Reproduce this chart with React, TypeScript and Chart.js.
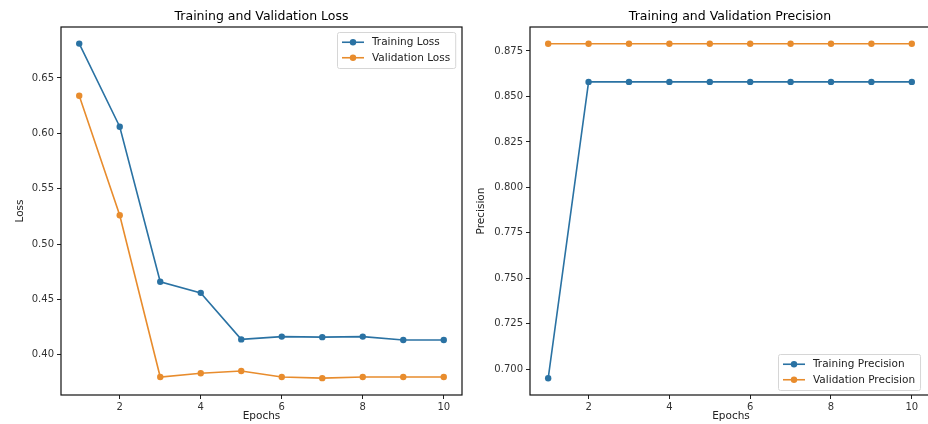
import React, { useEffect, useRef } from "react";
import { Chart, registerables } from "chart.js";

Chart.register(...registerables);

// Per-epoch training history
const epochs = [1, 2, 3, 4, 5, 6, 7, 8, 9, 10];
const trainingLoss = [0.681, 0.606, 0.466, 0.456, 0.414, 0.4165, 0.416, 0.4165, 0.4135, 0.4135];
const validationLoss = [0.634, 0.526, 0.38, 0.3835, 0.3855, 0.38, 0.379, 0.38, 0.38, 0.38];
const trainingPrecision = [0.695, 0.858, 0.858, 0.858, 0.858, 0.858, 0.858, 0.858, 0.858, 0.858];
const validationPrecision = [0.879, 0.879, 0.879, 0.879, 0.879, 0.879, 0.879, 0.879, 0.879, 0.879];

// Axis ticks
const epochTicks = [2, 4, 6, 8, 10];
const lossTicks = [0.4, 0.45, 0.5, 0.55, 0.6, 0.65];
const precisionTicks = [0.7, 0.725, 0.75, 0.775, 0.8, 0.825, 0.85, 0.875];

const BLUE = "#2a72a3";
const ORANGE = "#e88c2d";
const FONT = "'DejaVu Sans', sans-serif";

type LegendItem = { label: string; color: string };

// Title above the plot area, a full box frame and a matplotlib-style legend
const framePlugin = {
  id: "frame",
  afterDraw(chart: any, _args: any, opts: any) {
    const { ctx, chartArea: a } = chart;
    ctx.save();
    ctx.font = `12.5px ${FONT}`;
    ctx.fillStyle = "#000";
    ctx.textAlign = "center";
    ctx.textBaseline = "middle";
    ctx.fillText(opts.title, opts.titleX ?? (a.left + a.right) / 2, a.top - 10);

    ctx.strokeStyle = "#111";
    ctx.lineWidth = 1.2;
    ctx.strokeRect(a.left, a.top, a.right - a.left, a.bottom - a.top);

    const items: LegendItem[] = opts.items;
    ctx.font = `10.5px ${FONT}`;
    const textW = Math.max(...items.map((it) => ctx.measureText(it.label).width));
    const rowH = 15.5;
    const boxW = 5 + 30 + textW + 5;
    const boxH = items.length * rowH + 5;
    const bx = a.left + opts.dx;
    const by = opts.fromBottom ? a.bottom - opts.dy - boxH : a.top + opts.dy;
    ctx.fillStyle = "rgba(255,255,255,0.85)";
    ctx.strokeStyle = "#d6d6d6";
    ctx.lineWidth = 1;
    ctx.beginPath();
    ctx.roundRect(bx + 0.5, by + 0.5, boxW, boxH, 2);
    ctx.fill();
    ctx.stroke();
    items.forEach((it, i) => {
      const y = by + 2.5 + rowH * (i + 0.5);
      const hx = bx + 5;
      ctx.strokeStyle = it.color;
      ctx.lineWidth = 1.6;
      ctx.beginPath();
      ctx.moveTo(hx, y);
      ctx.lineTo(hx + 22, y);
      ctx.stroke();
      ctx.fillStyle = it.color;
      ctx.beginPath();
      ctx.arc(hx + 11, y, 3.2, 0, Math.PI * 2);
      ctx.fill();
      ctx.fillStyle = "#222";
      ctx.textAlign = "left";
      ctx.fillText(it.label, hx + 30, y + 0.5);
    });
    ctx.restore();
  },
};

function makeSeries(label: string, values: number[], color: string) {
  return {
    label,
    data: epochs.map((e, i) => ({ x: e, y: values[i] })),
    borderColor: color,
    backgroundColor: color,
    borderWidth: 1.6,
    pointRadius: 3.2,
    pointBorderWidth: 0,
    pointBackgroundColor: color,
    tension: 0,
  };
}

function buildConfig(p: {
  title: string;
  titleX?: number;
  yLabel: string;
  series: any[];
  yMin: number;
  yMax: number;
  yTicks: number[];
  yDigits: number;
  xMax: number;
  yWidth: number;
  yTitlePad: number;
  rightPad: number;
  legend: any;
}) {
  const tickFont = { family: FONT, size: 10 };
  const labelFont = { family: FONT, size: 10.5 };
  const tickGrid = {
    display: true,
    drawOnChartArea: false,
    drawTicks: true,
    tickLength: 4,
    color: "#222",
  };
  return {
    type: "line",
    data: { datasets: p.series },
    plugins: [framePlugin],
    options: {
      responsive: false,
      animation: false,
      devicePixelRatio: 1,
      layout: { padding: { top: 27, right: p.rightPad, left: 0, bottom: 0 } },
      plugins: {
        legend: { display: false },
        tooltip: { enabled: false },
        title: { display: false },
        frame: { title: p.title, titleX: p.titleX, ...p.legend },
      },
      scales: {
        x: {
          type: "linear",
          min: 0.55,
          max: p.xMax,
          afterBuildTicks: (s: any) => {
            s.ticks = epochTicks.map((v) => ({ value: v }));
          },
          afterFit: (s: any) => {
            s.height = 29;
          },
          ticks: {
            font: tickFont,
            color: "#333",
            padding: 2,
            autoSkip: false,
            maxRotation: 0,
            callback: (v: number) => String(v),
          },
          grid: tickGrid,
          border: { display: false },
          title: {
            display: true,
            text: "Epochs",
            font: labelFont,
            color: "#222",
            padding: { top: 0, bottom: 1 },
          },
        },
        y: {
          type: "linear",
          min: p.yMin,
          max: p.yMax,
          afterBuildTicks: (s: any) => {
            s.ticks = p.yTicks.map((v) => ({ value: v }));
          },
          afterFit: (s: any) => {
            s.width = p.yWidth;
          },
          ticks: {
            font: tickFont,
            color: "#333",
            padding: 3,
            autoSkip: false,
            callback: (v: number) => Number(v).toFixed(p.yDigits),
          },
          grid: tickGrid,
          border: { display: false },
          title: {
            display: true,
            text: p.yLabel,
            font: labelFont,
            color: "#222",
            padding: { top: p.yTitlePad, bottom: 0 },
          },
        },
      },
    },
  };
}

function ChartCanvas({ config, left, width }: { config: any; left: number; width: number }) {
  const ref = useRef<HTMLCanvasElement | null>(null);
  useEffect(() => {
    if (!ref.current) return;
    const chart = new Chart(ref.current, config);
    return () => chart.destroy();
  }, [config]);
  return (
    <canvas
      ref={ref}
      width={width}
      height={424}
      style={{ position: "absolute", left, top: 0, width, height: 424 }}
    />
  );
}

const lossConfig = buildConfig({
  title: "Training and Validation Loss",
  yLabel: "Loss",
  series: [
    makeSeries("Training Loss", trainingLoss, BLUE),
    makeSeries("Validation Loss", validationLoss, ORANGE),
  ],
  yMin: 0.3638,
  yMax: 0.696,
  yTicks: lossTicks,
  yDigits: 2,
  xMax: 10.45,
  yWidth: 61,
  yTitlePad: 14,
  rightPad: 1,
  legend: {
    dx: 276,
    dy: 5,
    fromBottom: false,
    items: [
      { label: "Training Loss", color: BLUE },
      { label: "Validation Loss", color: ORANGE },
    ],
  },
});

// The precision panel runs past the right edge of the page, so its frame is clipped there
const precisionConfig = buildConfig({
  title: "Training and Validation Precision",
  titleX: 264,
  yLabel: "Precision",
  series: [
    makeSeries("Training Precision", trainingPrecision, BLUE),
    makeSeries("Validation Precision", validationPrecision, ORANGE),
  ],
  yMin: 0.6858,
  yMax: 0.8882,
  yTicks: precisionTicks,
  yDigits: 3,
  xMax: 10.5,
  yWidth: 64,
  yTitlePad: 9,
  rightPad: 2,
  legend: {
    dx: 248,
    dy: 5,
    fromBottom: true,
    items: [
      { label: "Training Precision", color: BLUE },
      { label: "Validation Precision", color: ORANGE },
    ],
  },
});

export default function App() {
  return (
    <div
      style={{
        position: "fixed",
        left: 0,
        top: 0,
        width: 928,
        height: 424,
        background: "#fff",
        overflow: "hidden",
      }}
    >
      <ChartCanvas config={lossConfig} left={0} width={466} />
      <ChartCanvas config={precisionConfig} left={466} width={470} />
    </div>
  );
}
